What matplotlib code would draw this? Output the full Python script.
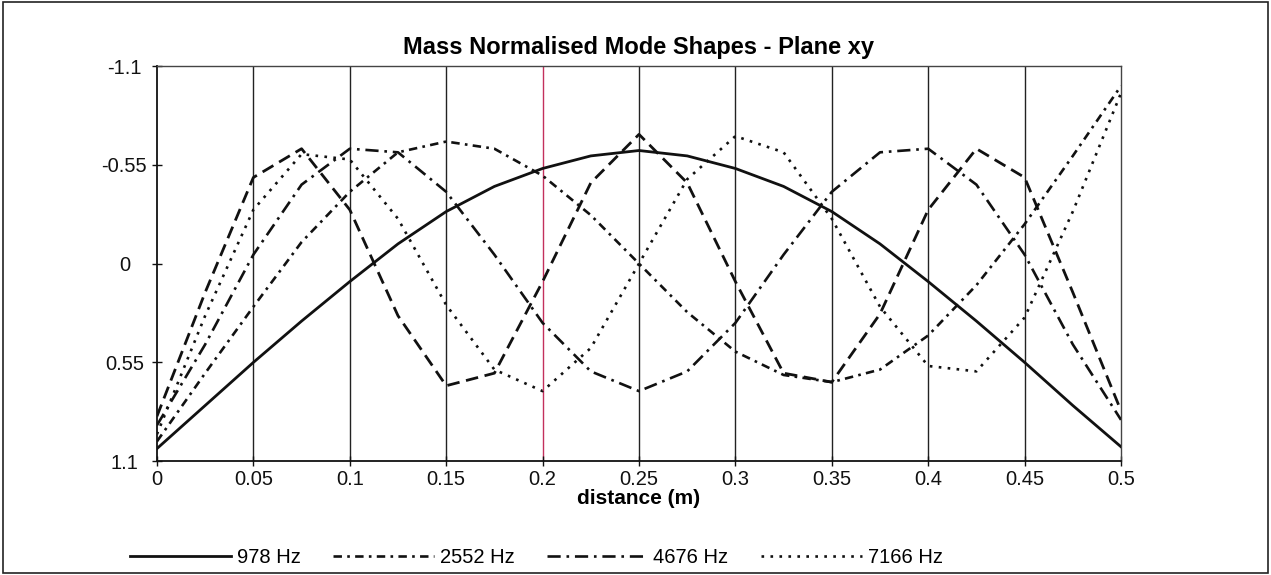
import numpy as np
import matplotlib.pyplot as plt
from matplotlib.patches import Rectangle

plt.rcParams['font.family'] = ['Liberation Sans', 'DejaVu Sans']

# node positions along the beam (m)
distance = [0.0, 0.025, 0.05, 0.075, 0.1, 0.125, 0.15, 0.175, 0.2, 0.225, 0.25,
            0.275, 0.3, 0.325, 0.35, 0.375, 0.4, 0.425, 0.45, 0.475, 0.5]

# mass normalised mode shapes, plane xy
mode_978 = [1.03, 0.79, 0.55, 0.32, 0.10, -0.11, -0.29, -0.43, -0.53, -0.60, -0.63,
            -0.60, -0.53, -0.43, -0.29, -0.11, 0.10, 0.32, 0.55, 0.79, 1.02]
mode_2552 = [0.99, 0.61, 0.24, -0.12, -0.40, -0.62, -0.68, -0.64, -0.49, -0.27, 0.0,
             0.27, 0.49, 0.62, 0.66, 0.59, 0.40, 0.12, -0.22, -0.60, -0.99]
mode_4676 = [0.90, 0.45, -0.05, -0.44, -0.64, -0.62, -0.40, -0.05, 0.33, 0.60, 0.71,
             0.60, 0.33, -0.05, -0.40, -0.62, -0.64, -0.44, -0.05, 0.45, 0.87]
mode_7166 = [0.95, 0.29, -0.30, -0.61, -0.58, -0.25, 0.23, 0.59, 0.71, 0.47, 0.0,
             -0.47, -0.71, -0.62, -0.25, 0.24, 0.57, 0.60, 0.30, -0.29, -0.95]
mode_5th = [0.85, 0.16, -0.48, -0.64, -0.30, 0.29, 0.68, 0.61, 0.10, -0.45, -0.72,
            -0.45, 0.10, 0.61, 0.66, 0.28, -0.30, -0.64, -0.48, 0.16, 0.82]

x_ticks = [0, 0.05, 0.1, 0.15, 0.2, 0.25, 0.3, 0.35, 0.4, 0.45, 0.5]
x_tick_labels = ['0', '0.05', '0.1', '0.15', '0.2', '0.25', '0.3', '0.35', '0.4', '0.45', '0.5']
y_ticks = [-1.1, -0.55, 0, 0.55, 1.1]
y_tick_labels = ['-1.1', '-0.55', '0', '0.55', '1.1']

fig = plt.figure(figsize=(12.71, 5.75), dpi=100)
ax = fig.add_axes([0.1235, 0.198, 0.7585, 0.687])

# vertical grid, one line per x tick (0.2 m highlighted)
for xv in x_ticks[1:-1]:
    col = '#c3305c' if abs(xv - 0.2) < 1e-9 else '#222222'
    ax.axvline(xv, color=col, lw=1.0, zorder=1)

ink = '#111111'
ax.plot(distance, mode_978, color=ink, lw=2.0, label='978 Hz', zorder=3)
ax.plot(distance, mode_2552, color=ink, lw=1.9, dashes=(3.2, 2.0, 1.0, 2.0), label='2552 Hz', zorder=3)
ax.plot(distance, mode_4676, color=ink, lw=1.9, dashes=(5.0, 2.2, 1.0, 2.2), label='4676 Hz', zorder=3)
ax.plot(distance, mode_7166, color=ink, lw=1.9, dashes=(1.0, 2.4), label='7166 Hz', zorder=3)
ax.plot(distance, mode_5th, color=ink, lw=2.0, dashes=(4.5, 2.4), label='_nolegend_', zorder=3)

ax.set_xlim(0, 0.5)
ax.set_ylim(1.1, -1.1)
ax.set_xticks(x_ticks)
ax.set_xticklabels(x_tick_labels)
ax.set_yticks(y_ticks)
ax.set_yticklabels(y_tick_labels, ha='center')
ax.tick_params(direction='inout', length=7, width=1, labelsize=14.5, colors='#111111', pad=3)
ax.tick_params(axis='y', pad=20)

for side in ['left', 'bottom']:
    ax.spines[side].set_linewidth(1.3)
    ax.spines[side].set_color('#111111')
for side in ['top', 'right']:
    ax.spines[side].set_linewidth(1.0)
    ax.spines[side].set_color('#444444')

ax.set_title('Mass Normalised Mode Shapes - Plane xy', fontsize=17, fontweight='bold', pad=9)
ax.set_xlabel('distance (m)', fontsize=15, fontweight='bold', labelpad=0)

fig.legend(loc='center', bbox_to_anchor=(0.422, 0.031), ncol=4, frameon=False,
           fontsize=14.5, handlelength=5.0, handletextpad=0.3, columnspacing=1.6)

# outer chart frame
fig.patches.append(Rectangle((0.002, 0.003), 0.996, 0.994, transform=fig.transFigure,
                             fill=False, edgecolor='#222222', lw=1.2))

fig.savefig('out.png', dpi=100)
